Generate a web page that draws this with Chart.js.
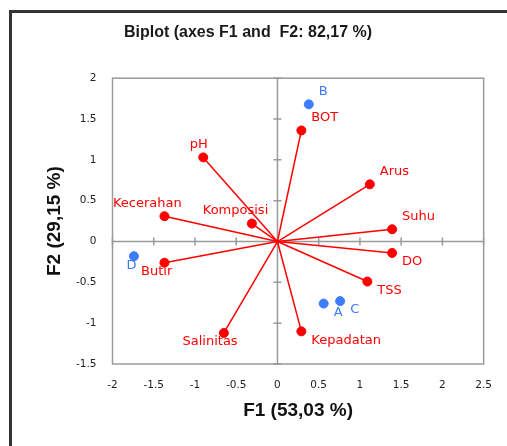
<!DOCTYPE html>
<html>
<head>
<meta charset="utf-8">
<script src="https://cdn.jsdelivr.net/npm/chart.js@4"></script>
<style>
  html, body { margin: 0; padding: 0; background: #fff; }
  #wrap { width: 507px; height: 446px; position: relative; }
</style>
</head>
<body>
<div id="wrap"><canvas id="c" width="507" height="446"></canvas></div>
<script>
// ---- Data ----
const varNames = ['pH', 'Kecerahan', 'Komposisi', 'BOT', 'Arus', 'Suhu', 'DO', 'TSS', 'Kepadatan', 'Butir', 'Salinitas'];
const varF1    = [-0.90, -1.37, -0.31, 0.29, 1.12, 1.39, 1.39, 1.09, 0.29, -1.37, -0.65];
const varF2    = [ 1.03,  0.31,  0.22, 1.36, 0.70, 0.15, -0.14, -0.49, -1.10, -0.26, -1.12];

const obsNames = ['A', 'B', 'C', 'D'];
const obsF1    = [0.56, 0.38, 0.76, -1.74];
const obsF2    = [-0.76, 1.68, -0.73, -0.18];

const xTicks = [-2, -1.5, -1, -0.5, 0, 0.5, 1, 1.5, 2, 2.5];
const yTicks = [-1.5, -1, -0.5, 0, 0.5, 1, 1.5, 2];

const titleText = 'Biplot (axes F1 and  F2: 82,17 %)';
const xTitle = 'F1 (53,03 %)';
const yTitle = 'F2 (29,15 %)';

const RED = '#ff0000';
const BLUE = '#3d7bff';
const LABEL_FONT = '13px "DejaVu Sans"';

// ---- Build datasets ----
const vectorSets = varNames.map((n, i) => ({
  type: 'line',
  label: 'vec-' + n,
  data: [{x: 0, y: 0}, {x: varF1[i], y: varF2[i]}],
  borderColor: RED,
  borderWidth: 1.5,
  pointRadius: 0,
  fill: false,
  tension: 0,
  order: 3
}));

const varSet = {
  type: 'scatter',
  label: 'Variables',
  data: varNames.map((n, i) => ({x: varF1[i], y: varF2[i], name: n})),
  backgroundColor: RED,
  borderColor: RED,
  pointRadius: 4.5,
  pointLabels: true,
  labelColor: RED,
  order: 2
};

const obsSet = {
  type: 'scatter',
  label: 'Observations',
  data: obsNames.map((n, i) => ({x: obsF1[i], y: obsF2[i], name: n})),
  backgroundColor: BLUE,
  borderColor: BLUE,
  pointRadius: 4.5,
  pointLabels: true,
  labelColor: BLUE,
  order: 1
};

// ---- Plugins ----
const framePlugin = {
  id: 'frame',
  beforeDraw(chart) {
    const ctx = chart.ctx;
    ctx.save();
    ctx.fillStyle = '#fff';
    ctx.fillRect(0, 0, chart.width, chart.height);
    ctx.strokeStyle = '#333';
    ctx.lineWidth = 3;
    ctx.beginPath();
    ctx.moveTo(10.5, chart.height + 5);
    ctx.lineTo(10.5, 11.5);
    ctx.lineTo(chart.width + 5, 11.5);
    ctx.stroke();
    ctx.restore();
  },
  beforeDatasetsDraw(chart) {
    const {ctx, chartArea: a, scales: {x, y}} = chart;
    const x0 = x.getPixelForValue(0), y0 = y.getPixelForValue(0);
    ctx.save();
    ctx.strokeStyle = '#9a9a9a';
    ctx.lineWidth = 1.5;
    ctx.strokeRect(a.left, a.top, a.right - a.left, a.bottom - a.top);
    ctx.beginPath();
    ctx.moveTo(a.left, y0); ctx.lineTo(a.right, y0);
    ctx.moveTo(x0, a.top); ctx.lineTo(x0, a.bottom);
    x.ticks.forEach(t => {
      const px = x.getPixelForValue(t.value);
      ctx.moveTo(px, y0 - 4); ctx.lineTo(px, y0 + 4);
    });
    y.ticks.forEach(t => {
      const py = y.getPixelForValue(t.value);
      ctx.moveTo(x0 - 4, py); ctx.lineTo(x0 + 4, py);
    });
    ctx.stroke();
    ctx.restore();
  },
  afterDatasetsDraw(chart) {
    const ctx = chart.ctx;
    ctx.save();
    ctx.font = LABEL_FONT;
    ctx.textBaseline = 'middle';
    chart.data.datasets.forEach((ds, di) => {
      if (!ds.pointLabels) return;
      const meta = chart.getDatasetMeta(di);
      ctx.fillStyle = ds.labelColor;
      meta.data.forEach((el, i) => {
        const d = ds.data[i];
        const w = ctx.measureText(d.name).width;
        const ty = d.y >= 0 ? el.y - 13 : el.y + 9;
        if (d.x >= 0) {
          ctx.textAlign = 'left';
          ctx.fillText(d.name, el.x + 10, ty);
        } else {
          ctx.textAlign = 'right';
          ctx.fillText(d.name, el.x + 0.25 * w, ty);
        }
      });
    });
    ctx.restore();
  }
};

const tickFont = {family: '"DejaVu Sans"', size: 10.5};
const axisTitleFont = {family: '"Liberation Sans"', size: 19, weight: 'bold', lineHeight: 1.2};

new Chart(document.getElementById('c'), {
  data: { datasets: [...vectorSets, varSet, obsSet] },
  options: {
    responsive: false,
    animation: false,
    layout: { padding: { left: 12, right: 23, top: 12, bottom: 0 } },
    plugins: {
      legend: { display: false },
      tooltip: { enabled: false },
      title: {
        display: true,
        text: titleText,
        color: '#1a1a1a',
        font: {family: '"Liberation Sans"', size: 16, weight: 'bold', lineHeight: 1.2},
        padding: { top: 10.5, bottom: 36.5 }
      }
    },
    scales: {
      x: {
        type: 'linear',
        min: xTicks[0], max: xTicks[xTicks.length - 1],
        afterBuildTicks: s => { s.ticks = xTicks.map(v => ({value: v})); },
        afterFit: s => { s.height = 82; },
        grid: { display: false, drawTicks: false },
        border: { display: false },
        ticks: { color: '#222', font: tickFont, padding: 15, maxRotation: 0,
                 callback: v => String(v) },
        title: { display: true, text: xTitle, color: '#111', font: axisTitleFont,
                 padding: { top: 0, bottom: 23.5 } }
      },
      y: {
        type: 'linear',
        min: yTicks[0], max: yTicks[yTicks.length - 1],
        afterBuildTicks: s => { s.ticks = yTicks.map(v => ({value: v})); },
        afterFit: s => { s.width = 100.5; },
        grid: { display: false, drawTicks: false },
        border: { display: false },
        ticks: { color: '#222', font: tickFont, padding: 16,
                 callback: v => String(v) },
        title: { display: true, text: yTitle, color: '#111', font: axisTitleFont,
                 padding: { top: 31.5, bottom: 0 } }
      }
    }
  },
  plugins: [framePlugin]
});
</script>
</body>
</html>
